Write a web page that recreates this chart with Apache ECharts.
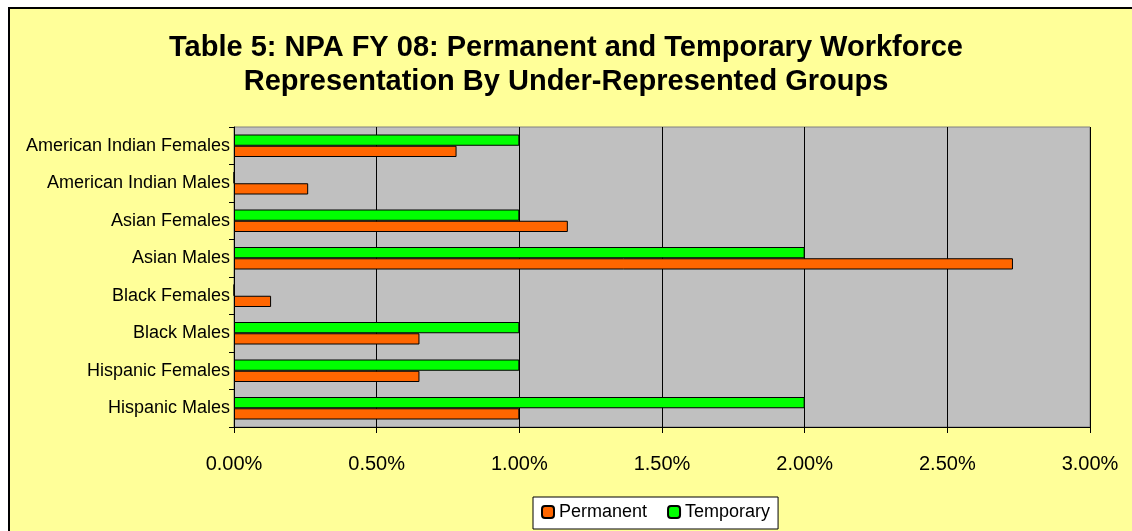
<!DOCTYPE html>
<html>
<head>
<meta charset="utf-8">
<script src="https://cdn.jsdelivr.net/npm/echarts@6/dist/echarts.min.js"></script>
<style>
html,body{margin:0;padding:0;background:#fff;overflow:hidden;}
#bg{position:absolute;left:8px;top:7px;width:1200px;height:600px;background:#FFFF99;border-left:2px solid #000;border-top:2px solid #000;}
#chart{position:absolute;left:0;top:0;width:1132px;height:531px;}
</style>
</head>
<body>
<div id="bg"></div>
<div id="chart"></div>
<script>
const categories = ["American Indian Females","American Indian Males","Asian Females","Asian Males","Black Females","Black Males","Hispanic Females","Hispanic Males"];
const permanent = [0.78, 0.26, 1.17, 2.73, 0.13, 0.65, 0.65, 1.00];
const temporary = [1.00, 0, 1.00, 2.00, 0, 1.00, 1.00, 2.00];
const xTicks = [0, 0.5, 1.0, 1.5, 2.0, 2.5, 3.0];

const chart = echarts.init(document.getElementById('chart'), null, {renderer:'canvas'});
const font = 'Arial, "Liberation Sans", sans-serif';
chart.setOption({
  backgroundColor: 'transparent',
  animation: false,
  title: {
    text: 'Table 5: NPA FY 08: Permanent and Temporary Workforce\nRepresentation By Under-Represented Groups',
    left: 'center',
    top: 26,
    textStyle: {fontFamily: font, fontWeight: 'bold', fontSize: 29, lineHeight: 34, color: '#000'}
  },
  legend: {
    data: ['Permanent','Temporary'],
    left: 533,
    top: 497,
    backgroundColor: '#fff',
    borderColor: '#000',
    borderWidth: 1,
    padding: [6, 8, 8, 8],
    itemWidth: 12,
    itemHeight: 12,
    itemGap: 20,
    textStyle: {fontFamily: font, fontSize: 18, color: '#000'}
  },
  grid: {left: 234, right: 42, top: 127, bottom: 104, show: true, backgroundColor: '#C0C0C0', borderColor: '#808080', borderWidth: 1},
  xAxis: {
    type: 'value',
    min: xTicks[0], max: xTicks[xTicks.length-1], interval: 0.5,
    axisLine: {show: true, lineStyle: {color: '#000'}},
    axisTick: {show: true, length: 6, lineStyle: {color: '#000'}},
    splitLine: {show: true, lineStyle: {color: '#000', width: 1}},
    axisLabel: {fontFamily: font, fontSize: 20, color: '#000', margin: 27,
      formatter: v => v.toFixed(2) + '%'}
  },
  yAxis: {
    type: 'category',
    data: categories,
    inverse: true,
    axisLine: {show: true, lineStyle: {color: '#000'}},
    axisTick: {show: true, length: 5, inside: false, lineStyle: {color: '#000'}},
    splitLine: {show: false},
    axisLabel: {fontFamily: font, fontSize: 18, color: '#000', margin: 4}
  },
  series: [
    {name: 'Temporary', type: 'bar', data: temporary, barGap: '0%', barCategoryGap: '40%',
     itemStyle: {color: '#00FF00', borderColor: '#000', borderWidth: 1}},
    {name: 'Permanent', type: 'bar', data: permanent, barGap: '0%', barCategoryGap: '40%',
     itemStyle: {color: '#FF6600', borderColor: '#000', borderWidth: 1}}
  ]
});
</script>
</body>
</html>
